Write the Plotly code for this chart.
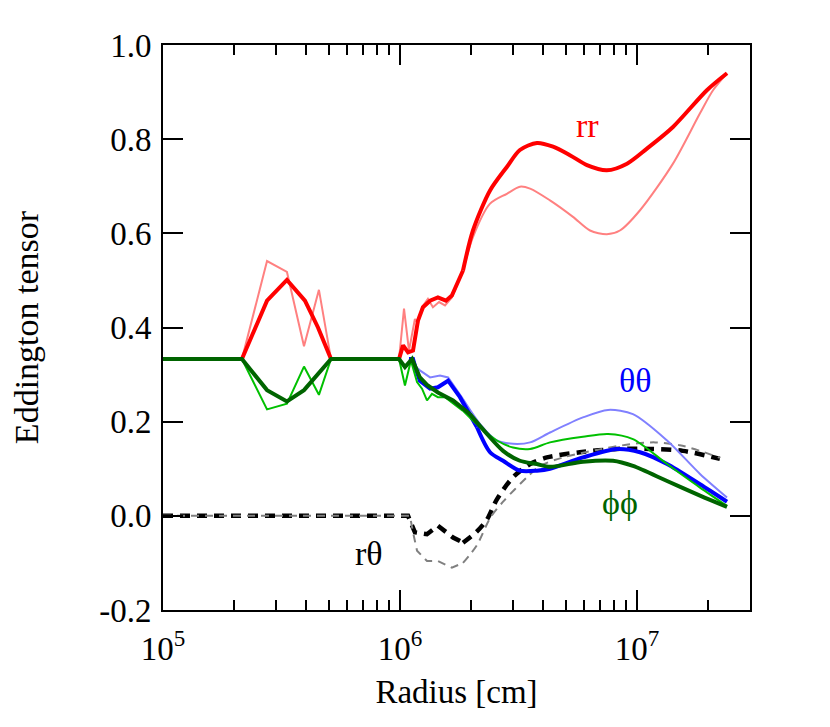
import plotly.graph_objects as go

# ---------------- data (log10 radius [cm], Eddington tensor component) ----------------
rr_thick_logr = [5.0, 5.333, 5.439, 5.523, 5.599, 5.654, 5.709, 5.996, 6.013, 6.034,
                 6.055, 6.076, 6.097, 6.127, 6.160, 6.194, 6.219, 6.266, 6.308, 6.380, 6.451, 6.506,
                 6.578, 6.646, 6.717, 6.789, 6.873, 6.958, 7.042, 7.152, 7.295, 7.380]
rr_thick_val = [0.333, 0.333, 0.457, 0.501, 0.457, 0.400, 0.333, 0.333, 0.362, 0.347,
                0.351, 0.415, 0.443, 0.457, 0.464, 0.457, 0.468, 0.521, 0.606, 0.691, 0.741, 0.777,
                0.792, 0.784, 0.766, 0.745, 0.734, 0.748, 0.780, 0.826, 0.904, 0.940]

rr_thin_logr = [5.0, 5.333, 5.439, 5.523, 5.595, 5.658, 5.709, 5.996, 6.017, 6.038,
                6.063, 6.076, 6.093, 6.118, 6.139, 6.165, 6.190, 6.219, 6.266, 6.308, 6.380, 6.451,
                6.506, 6.549, 6.633, 6.730, 6.802, 6.873, 6.928, 7.013, 7.152, 7.266, 7.321, 7.380]
rr_thin_val = [0.333, 0.333, 0.541, 0.518, 0.360, 0.480, 0.333, 0.333, 0.440, 0.351,
               0.418, 0.408, 0.443, 0.461, 0.443, 0.454, 0.447, 0.464, 0.521, 0.592, 0.663, 0.684,
               0.699, 0.695, 0.670, 0.635, 0.606, 0.598, 0.606, 0.649, 0.748, 0.855, 0.904, 0.940]

tt_thick_logr = [6.038, 6.055, 6.068, 6.084, 6.127, 6.160, 6.203, 6.253, 6.325, 6.380, 6.435, 6.506,
                 6.578, 6.633, 6.772, 6.916, 7.013, 7.127, 7.266, 7.380]
tt_thick_val = [0.333, 0.333, 0.310, 0.287, 0.270, 0.273, 0.287, 0.252, 0.188, 0.135, 0.117, 0.096,
                0.096, 0.100, 0.124, 0.142, 0.135, 0.110, 0.067, 0.030]

tt_thin_logr = [6.038, 6.059, 6.084, 6.127, 6.169, 6.203, 6.266, 6.338, 6.409, 6.477, 6.549, 6.633,
                6.772, 6.878, 6.983, 7.127, 7.266, 7.380]
tt_thin_val = [0.333, 0.320, 0.309, 0.294, 0.298, 0.294, 0.248, 0.195, 0.160, 0.153, 0.156, 0.177,
               0.209, 0.225, 0.216, 0.160, 0.089, 0.039]

pp_thin_logr = [5.0, 5.333, 5.439, 5.523, 5.595, 5.658, 5.709, 5.996, 6.021, 6.046,
                6.072, 6.093, 6.114, 6.135, 6.160, 6.190, 6.266, 6.338, 6.409, 6.477, 6.549, 6.633,
                6.772, 6.878, 6.983, 7.127, 7.266, 7.380]
pp_thin_val = [0.333, 0.333, 0.226, 0.238, 0.317, 0.257, 0.333, 0.333, 0.277, 0.330,
               0.284, 0.270, 0.245, 0.259, 0.252, 0.252, 0.223, 0.188, 0.160, 0.145, 0.142, 0.156,
               0.168, 0.174, 0.163, 0.110, 0.060, 0.021]

pp_thick_logr = [5.0, 5.333, 5.439, 5.523, 5.595, 5.654, 5.709, 5.996, 6.021, 6.051,
                 6.084, 6.114, 6.160, 6.224, 6.295, 6.367, 6.435, 6.506, 6.578, 6.633, 6.772, 6.899,
                 6.983, 7.127, 7.266, 7.380]
pp_thick_val = [0.333, 0.333, 0.267, 0.243, 0.267, 0.300, 0.333, 0.333, 0.316, 0.333,
                0.294, 0.278, 0.262, 0.245, 0.216, 0.174, 0.138, 0.117, 0.110, 0.104, 0.115, 0.117,
                0.106, 0.074, 0.043, 0.019]

rt_thick_logr = [5.0, 6.034, 6.063, 6.114, 6.160, 6.224, 6.266, 6.325, 6.367, 6.409, 6.477, 6.549,
                 6.620, 6.759, 6.916, 7.055, 7.194, 7.350]
rt_thick_val = [0.0, 0.0, -0.035, -0.039, -0.021, -0.046, -0.057, -0.033, -0.008, 0.035, 0.082, 0.110,
                0.124, 0.135, 0.142, 0.142, 0.138, 0.121]

rt_thin_logr = [5.0, 6.042, 6.055, 6.072, 6.114, 6.160, 6.219, 6.266, 6.325, 6.380, 6.435, 6.536,
                6.591, 6.688, 6.831, 6.970, 7.076, 7.181, 7.266, 7.350]
rt_thin_val = [0.0, 0.0, -0.035, -0.074, -0.096, -0.096, -0.110, -0.100, -0.062, -0.005, 0.030, 0.082,
               0.106, 0.124, 0.140, 0.152, 0.156, 0.150, 0.138, 0.123]

y_ticks = [-0.2, 0.0, 0.2, 0.4, 0.6, 0.8, 1.0]
y_tick_text = ["-0.2", "0.0", "0.2", "0.4", "0.6", "0.8", "1.0"]
x_ticks = [1e5, 1e6, 1e7]
x_tick_text = ["10<sup>5</sup>", "10<sup>6</sup>", "10<sup>7</sup>"]

labels = ["rr", "θθ", "ϕϕ", "rθ"]
label_logr = [6.793, 6.992, 6.928, 5.869]
label_val = [0.830, 0.287, 0.028, -0.081]
label_colors = ["#ff0000", "#0000ff", "#006400", "#000000"]

FONT = "Liberation Serif"
SMOOTH_FROM = 6.26   # log10 r beyond which the curves are smooth


def rad(logs):
    return [10 ** v for v in logs]


fig = go.Figure()

series = [
    (rt_thick_logr, rt_thick_val, "#000000", 4.5, "10px,7px"),
    (rt_thin_logr, rt_thin_val, "#808080", 2, "8px,6px"),
    (rr_thin_logr, rr_thin_val, "#ff8080", 2, "solid"),
    (tt_thin_logr, tt_thin_val, "#8080ff", 2, "solid"),
    (rr_thick_logr, rr_thick_val, "#ff0000", 4, "solid"),
    (tt_thick_logr, tt_thick_val, "#0000ff", 4, "solid"),
    (pp_thin_logr, pp_thin_val, "#00c000", 2, "solid"),
    (pp_thick_logr, pp_thick_val, "#006400", 4, "solid"),
]
for lx, ly, col, w, dash in series:
    # index of the first point in the smooth part
    k = next(i for i, v in enumerate(lx) if v >= SMOOTH_FROM)
    # jagged inner part: straight segments
    fig.add_trace(go.Scatter(
        x=rad(lx[:k + 1]), y=ly[:k + 1], mode="lines",
        line=dict(color=col, width=w, dash=dash, shape="linear"),
        showlegend=False, hoverinfo="skip"))
    # smooth outer part
    fig.add_trace(go.Scatter(
        x=rad(lx[k:]), y=ly[k:], mode="lines",
        line=dict(color=col, width=w, dash=dash, shape="spline", smoothing=0.8),
        showlegend=False, hoverinfo="skip"))

for t, lx, ly, c in zip(labels, label_logr, label_val, label_colors):
    fig.add_annotation(x=lx, y=ly, xref="x", yref="y", text=t, showarrow=False,
                       font=dict(family=FONT, size=34, color=c))

# page body has an 8px margin: the figure is offset by (8, 8)
fig.update_layout(
    width=822, height=711,
    margin=dict(l=155, r=80, t=37, b=109),
    paper_bgcolor="white", plot_bgcolor="white",
    font=dict(family=FONT, size=33, color="black"),
)
fig.update_xaxes(
    type="log", range=[5, 7.477],
    tickvals=x_ticks, ticktext=x_tick_text,
    ticks="inside", ticklen=20, tickwidth=2, tickcolor="black",
    minor=dict(ticks="inside", ticklen=10, tickwidth=2, tickcolor="black", dtick="D1", showgrid=False),
    showline=True, linecolor="black", linewidth=2, mirror="ticks",
    showgrid=False, zeroline=False, automargin=False,
    tickfont=dict(family=FONT, size=33), ticklabelstandoff=8,
    title=dict(text="Radius [cm]", font=dict(family=FONT, size=33), standoff=14),
)
fig.update_yaxes(
    range=[-0.2, 1.0],
    tickvals=y_ticks, ticktext=y_tick_text,
    ticks="inside", ticklen=20, tickwidth=2, tickcolor="black",
    showline=True, linecolor="black", linewidth=2, mirror="ticks",
    showgrid=False, zeroline=False, automargin=False,
    tickfont=dict(family=FONT, size=33), ticklabelstandoff=3,
    title=dict(text="Eddington tensor", font=dict(family=FONT, size=34), standoff=52),
)

fig.write_html("out.html")
